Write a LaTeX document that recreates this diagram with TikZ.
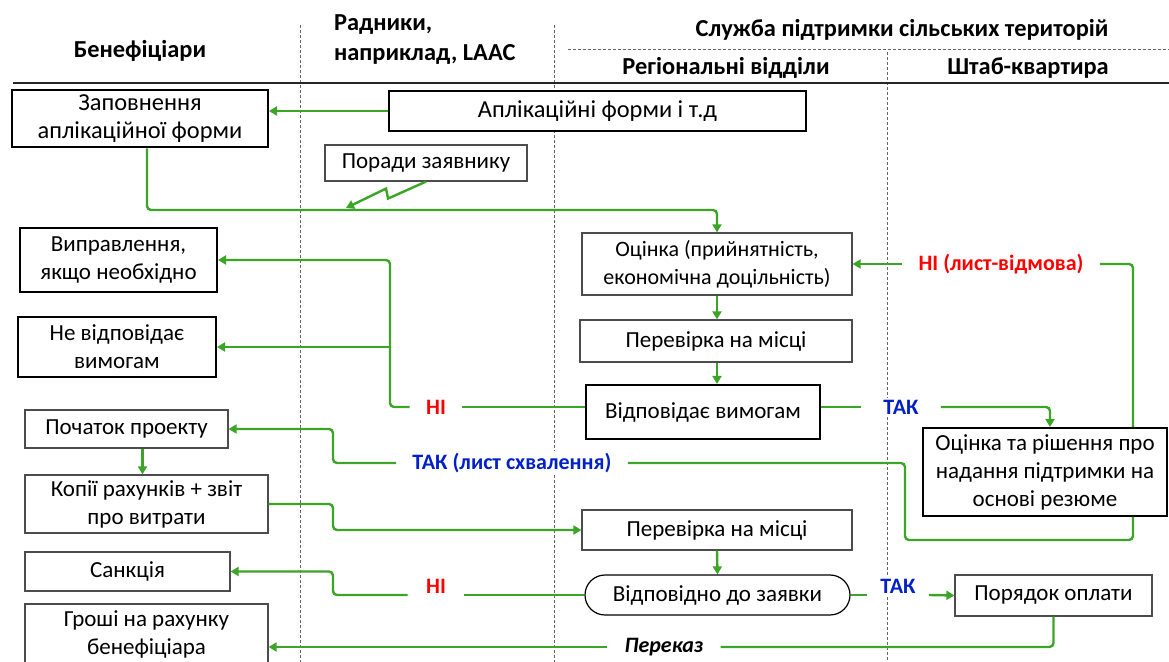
\documentclass[tikz,border=0pt]{standalone}
\usepackage{fontspec}
\setmainfont{Carlito}
\usetikzlibrary{arrows.meta}
\definecolor{flowgreen}{RGB}{60,165,40}
\definecolor{nored}{RGB}{255,0,0}
\definecolor{yesblue}{RGB}{0,32,200}

\begin{document}
\begin{tikzpicture}[x=0.5pt, y=-0.5pt, >={Triangle[length=4pt,width=4.5pt]},
    font=\fontsize{11.5}{14}\selectfont,
    thickbox/.style={draw=black, line width=1pt, fill=white, align=center, inner sep=1pt},
    thinbox/.style={draw=black!70, line width=0.6pt, fill=white, align=center, inner sep=1pt},
    flow/.style={draw=flowgreen, line width=1.2pt, rounded corners=2pt},
    lane/.style={draw=black!60, line width=0.5pt, dash pattern=on 1.5pt off 1pt},
    head/.style={font=\fontsize{12.2}{15}\selectfont\bfseries, align=center},
    nolabel/.style={text=nored, fill=white, font=\fontsize{11}{14}\selectfont\bfseries, inner xsep=8pt, inner ysep=1pt},
    yeslabel/.style={text=yesblue, fill=white, font=\fontsize{11}{14}\selectfont\bfseries, inner xsep=8pt, inner ysep=1pt}]
    \useasboundingbox (0,0) rectangle (1169,662);

    % Swim lanes
    \draw[lane] (300,25) -- (300,662);
    \draw[lane] (554,25) -- (554,662);
    \draw[lane] (887,52) -- (887,662);
    \draw[lane] (568,50) -- (1169,50);
    \draw[black!85, line width=1.3pt] (13,83) -- (1169,83);

    % Lane headers
    \node[head] (hben) at (140,51) {Бенефіціари};
    \node[head, align=left, anchor=west] (hrad) at (327,40) {Радники,\\наприклад, LAAC};
    \node[head] (hsluzh) at (902,30) {Служба підтримки сільських територій};
    \node[head] (hreg) at (726,68) {Регіональні відділи};
    \node[head] (hstab) at (1028,68) {Штаб-квартира};

    % Application stage
    \node[thickbox, font=\fontsize{12.2}{14}\selectfont, minimum width=128pt, minimum height=28.5pt] (zapov) at (140,119) {Заповнення\\аплікаційної форми};
    \node[thickbox, font=\fontsize{12.2}{14}\selectfont, minimum width=208.5pt, minimum height=20pt] (aplik) at (597.5,111) {Аплікаційні форми і т.д};
    \node[thinbox, minimum width=101pt, minimum height=18pt] (porady) at (426,163) {Поради заявнику};

    % Assessment in regional office
    \node[thinbox, font=\fontsize{11}{14}\selectfont, minimum width=135pt, minimum height=31pt] (ocinka) at (717,264) {Оцінка (прийнятність,\\економічна доцільність)};
    \node[thinbox, minimum width=136pt, minimum height=21pt] (perev1) at (716,341) {Перевірка на місці};
    \node[thickbox, minimum width=117pt, minimum height=27pt] (vidpov) at (703,412) {Відповідає вимогам};
    \node[thickbox, minimum width=98.5pt, minimum height=32pt] (viprav) at (118.5,260) {Виправлення,\\якщо необхідно};
    \node[thickbox, minimum width=99pt, minimum height=30pt] (nevid) at (117,347) {Не відповідає\\вимогам};
    \node[thickbox, minimum width=122pt, minimum height=44pt] (ocrish) at (1045,472) {Оцінка та рішення про\\надання підтримки на\\основі резюме};

    % Project and payment
    \node[thinbox, minimum width=101.5pt, minimum height=19pt] (pochatok) at (126.5,429) {Початок проекту};
    \node[thinbox, minimum width=121.5pt, minimum height=29pt] (kopii) at (146.5,504) {Копії рахунків + звіт\\про витрати};
    \node[thinbox, minimum width=135pt, minimum height=20pt] (perev2) at (717,530) {Перевірка на місці};
    \node[thinbox, draw=black, rounded corners=10pt, minimum width=132.5pt, minimum height=20pt] (vidpzay) at (717.5,595) {Відповідно до заявки};
    \node[thinbox, minimum width=102.5pt, minimum height=19.5pt] (sankc) at (127.5,571.5) {Санкція};
    \node[thinbox, minimum width=98.5pt, minimum height=20.5pt] (poryad) at (1053.5,595.5) {Порядок оплати};
    \node[thinbox, minimum width=121.5pt, minimum height=30pt] (groshi) at (146.5,634) {Гроші на рахунку\\бенефіціара};

    % Decision labels
    \node[nolabel] (ni1) at (436,407) {НІ};
    \node[yeslabel, inner xsep=11pt] (tak1) at (901,407) {ТАК};
    \node[nolabel] (nivid) at (1001,264) {НІ (лист-відмова)};
    \node[yeslabel] (taklist) at (512,463) {ТАК (лист схвалення)};
    \node[nolabel, inner xsep=9pt] (ni2) at (436,586) {НІ};
    \node[yeslabel, inner xsep=6.5pt] (tak2) at (898,586) {ТАК};
    \node[fill=white, font=\fontsize{11}{14}\selectfont\bfseries\itshape, inner xsep=8.5pt, inner ysep=1pt] (perekaz) at (664,647) {Переказ};

    % Forms go out, filled form comes back
    \draw[flow,->] (aplik.west) -- (aplik.west -| zapov.east);
    \coordinate (turn1) at (717,210);
    \draw[flow,->] ([xshift=3.5pt]zapov.south) |- (turn1) -- (ocinka.north);
    \coordinate (advtip) at (346,208);
    \draw[flow,->, rounded corners=0pt] (porady.south) -- ++(-38,17) -- ++(-2,-10) -- (advtip);

    % Regional checks
    \draw[flow,->] (ocinka.south) -- (ocinka.south |- perev1.north);
    \draw[flow,->] (perev1.south -| ocinka.south) -- (ocinka.south |- vidpov.north);

    % NO: back to beneficiary
    \coordinate (split1) at (390,407);
    \draw[flow] (ni1.east) -- (ni1.east -| vidpov.west);
    \draw[flow,->] (ni1.west) -- (split1) |- (viprav.east);
    \draw[flow,->] (split1 |- nevid.east) -- (nevid.east);

    % YES: on to headquarters
    \draw[flow] (tak1.west -| vidpov.east) -- (tak1.west);
    \draw[flow,->] (tak1.east) -| ([xshift=2.5pt]ocrish.north);
    \draw[flow] ([xshift=44pt]ocrish.north) |- (nivid.east);
    \draw[flow,->] (nivid.west) -- (nivid.west -| ocinka.east);

    % Approval letter to project start
    \coordinate (loopA) at (905,540);
    \coordinate (loopB) at (333,463);
    \draw[flow] ([xshift=44pt]ocrish.south) |- (loopA) |- (taklist.east);
    \draw[flow,->] (taklist.west) -- (loopB) |- (pochatok.east);
    \draw[flow,->] ([xshift=8pt]pochatok.south) -- ([xshift=8pt]pochatok.south |- kopii.north);

    % Claim check
    \coordinate (loopC) at (333,504);
    \draw[flow,->] (kopii.east) -- (loopC) |- (perev2.west);
    \draw[flow,->] (perev2.south) -- (vidpzay.north);

    % Sanction or payment
    \coordinate (loopD) at (333,595);
    \draw[flow] (vidpzay.west) -- (vidpzay.west -| ni2.east);
    \draw[flow,->] (vidpzay.west -| ni2.west) -- (loopD) |- (sankc.east);
    \draw[flow] (vidpzay.east) -- (vidpzay.east -| tak2.west);
    \draw[flow,->] (vidpzay.east -| tak2.east) -- (poryad.west);
    \draw[flow] (poryad.south) |- (perekaz.east);
    \draw[flow,->] (perekaz.west) -- (perekaz.west -| groshi.east);
  \end{tikzpicture}
\end{document}
